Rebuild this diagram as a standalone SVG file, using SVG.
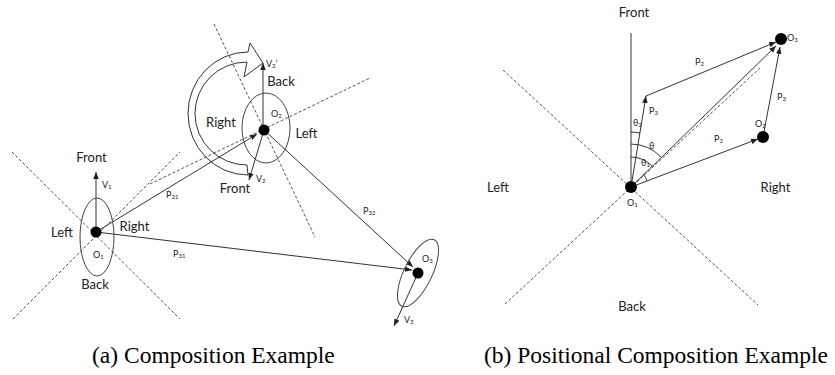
<svg xmlns="http://www.w3.org/2000/svg" width="835" height="375" viewBox="0 0 835 375">
<defs>
<style>
.ln{stroke:#333;stroke-width:1;fill:none}
.ds{stroke:#555;stroke-width:1;fill:none;stroke-dasharray:3 2}
.el{stroke:#444;stroke-width:1;fill:none}
.dot{fill:#000}
.lb{font-family:Lato,"Open Sans",sans-serif;font-size:13px;fill:#222}
.sm{font-family:Lato,"Open Sans",sans-serif;font-size:9px;fill:#222}
.sub{font-size:6px}
.cap{font-family:"Liberation Serif",serif;font-size:23.5px;fill:#000}
</style>
<marker id="ah" viewBox="0 0 10 10" refX="10" refY="5" markerWidth="7" markerHeight="7" markerUnits="userSpaceOnUse" orient="auto"><path d="M0,1 L10,5 L0,9 z" fill="#222"/></marker>
</defs>
<g id="connectors">
<line class="ds" x1="12" y1="152" x2="180" y2="319"/>
<line class="ds" x1="13" y1="319" x2="180" y2="152"/>
<line class="ds" x1="214" y1="24" x2="315" y2="237"/>
<line class="ds" x1="150" y1="184" x2="370" y2="78"/>
<line class="ln" x1="96" y1="232" x2="96" y2="172" marker-end="url(#ah)"/>
<line class="ln" x1="96" y1="232" x2="257" y2="134" marker-end="url(#ah)"/>
<line class="ln" x1="96" y1="232" x2="412" y2="270" marker-end="url(#ah)"/>
<line class="ln" x1="264" y1="130" x2="413" y2="267" marker-end="url(#ah)"/>
<line class="ln" x1="263" y1="130" x2="263" y2="63" marker-end="url(#ah)"/>
<line class="ln" x1="264" y1="130" x2="249" y2="180" marker-end="url(#ah)"/>
<line class="ln" x1="418" y1="273" x2="394" y2="326" marker-end="url(#ah)"/>
<path class="ln" d="M248,175 A60,61.5 0 1 1 248,52 L250,43 L263,63 L244,77 L247,62 A52,51.5 0 1 0 247,165 Z"/>
<line class="ds" x1="503" y1="70" x2="758" y2="305"/>
<line class="ds" x1="505" y1="304" x2="760" y2="68"/>
<line class="ln" x1="631" y1="187" x2="631" y2="33"/>
<line class="ln" x1="631" y1="187" x2="646" y2="96" marker-end="url(#ah)"/>
<line class="ln" x1="646" y1="96" x2="776" y2="42" marker-end="url(#ah)"/>
<line class="ln" x1="631" y1="187" x2="776" y2="46" marker-end="url(#ah)"/>
<line class="ln" x1="631" y1="187" x2="758" y2="139" marker-end="url(#ah)"/>
<line class="ln" x1="763" y1="137" x2="780" y2="47" marker-end="url(#ah)"/>
<path class="ln" d="M631,132 A55,55 0 0 1 640,133"/>
<path class="ln" d="M631,144 A43,43 0 0 1 661,157"/>
<path class="ln" d="M631,157 A30,30 0 0 1 652,166"/>
<path class="ln" d="M643,174 A17,17 0 0 1 647,181"/>
</g>
<g id="O1a">
<ellipse class="el" cx="97" cy="237" rx="17" ry="39"/>
<circle class="dot" cx="96" cy="232" r="5.5"/>
<text class="sm" x="93" y="258">O<tspan class="sub" dy="1">1</tspan></text>
<text class="lb" x="91.5" y="162" text-anchor="middle">Front</text>
<text class="lb" x="62" y="237" text-anchor="middle">Left</text>
<text class="lb" x="134.5" y="231" text-anchor="middle">Right</text>
<text class="lb" x="95" y="289" text-anchor="middle">Back</text>
<text class="sm" x="102" y="188">V<tspan class="sub" dy="1">1</tspan></text>
<text class="sm" x="166" y="198">P<tspan class="sub" dy="1">21</tspan></text>
<text class="sm" x="173" y="257">P<tspan class="sub" dy="1">31</tspan></text>
</g>
<g id="O2a">
<ellipse class="el" cx="266" cy="128" rx="24" ry="35"/>
<circle class="dot" cx="264" cy="130" r="5.5"/>
<text class="sm" x="271" y="117">O<tspan class="sub" dy="1">2</tspan></text>
<text class="lb" x="281" y="86" text-anchor="middle">Back</text>
<text class="lb" x="221" y="127" text-anchor="middle">Right</text>
<text class="lb" x="306.5" y="138" text-anchor="middle">Left</text>
<text class="lb" x="235" y="193" text-anchor="middle">Front</text>
<text class="sm" x="266" y="67">V<tspan class="sub" dy="1">2</tspan><tspan dy="-1">’</tspan></text>
<text class="sm" x="256" y="182">V<tspan class="sub" dy="1">2</tspan></text>
<text class="sm" x="363" y="214">P<tspan class="sub" dy="1">32</tspan></text>
</g>
<g id="O3a">
<ellipse class="el" cx="418" cy="273" rx="14" ry="37" transform="rotate(26 418 273)"/>
<circle class="dot" cx="418" cy="273" r="5.5"/>
<text class="sm" x="422" y="262">O<tspan class="sub" dy="1">3</tspan></text>
<text class="sm" x="404" y="323">V<tspan class="sub" dy="1">3</tspan></text>
</g>
<g id="O1b">
<circle class="dot" cx="631" cy="187" r="6"/>
<text class="sm" x="627" y="206">O<tspan class="sub" dy="1">1</tspan></text>
<text class="lb" x="634" y="17" text-anchor="middle">Front</text>
<text class="lb" x="498" y="192" text-anchor="middle">Left</text>
<text class="lb" x="775.5" y="192" text-anchor="middle">Right</text>
<text class="lb" x="632" y="311" text-anchor="middle">Back</text>
<text class="sm" x="633" y="126">θ<tspan class="sub" dy="1">2</tspan></text>
<text class="sm" x="649" y="149">θ</text>
<text class="sm" x="641" y="166">θ<tspan class="sub" dy="1">1</tspan></text>
<text class="sm" x="695" y="65">P<tspan class="sub" dy="1">2</tspan></text>
<text class="sm" x="649" y="114">P<tspan class="sub" dy="1">3</tspan></text>
<text class="sm" x="777" y="100">P<tspan class="sub" dy="1">3</tspan></text>
<text class="sm" x="714" y="142">P<tspan class="sub" dy="1">2</tspan></text>
</g>
<g id="O2b">
<circle class="dot" cx="763" cy="137" r="6"/>
<text class="sm" x="755" y="127">O<tspan class="sub" dy="1">2</tspan></text>
</g>
<g id="O3b">
<circle class="dot" cx="781" cy="39" r="6"/>
<text class="sm" x="787" y="41">O<tspan class="sub" dy="1">3</tspan></text>
</g>
<g id="captions">
<text class="cap" x="92" y="363">(a) Composition Example</text>
<text class="cap" x="484" y="363">(b) Positional Composition Example</text>
</g>
</svg>
